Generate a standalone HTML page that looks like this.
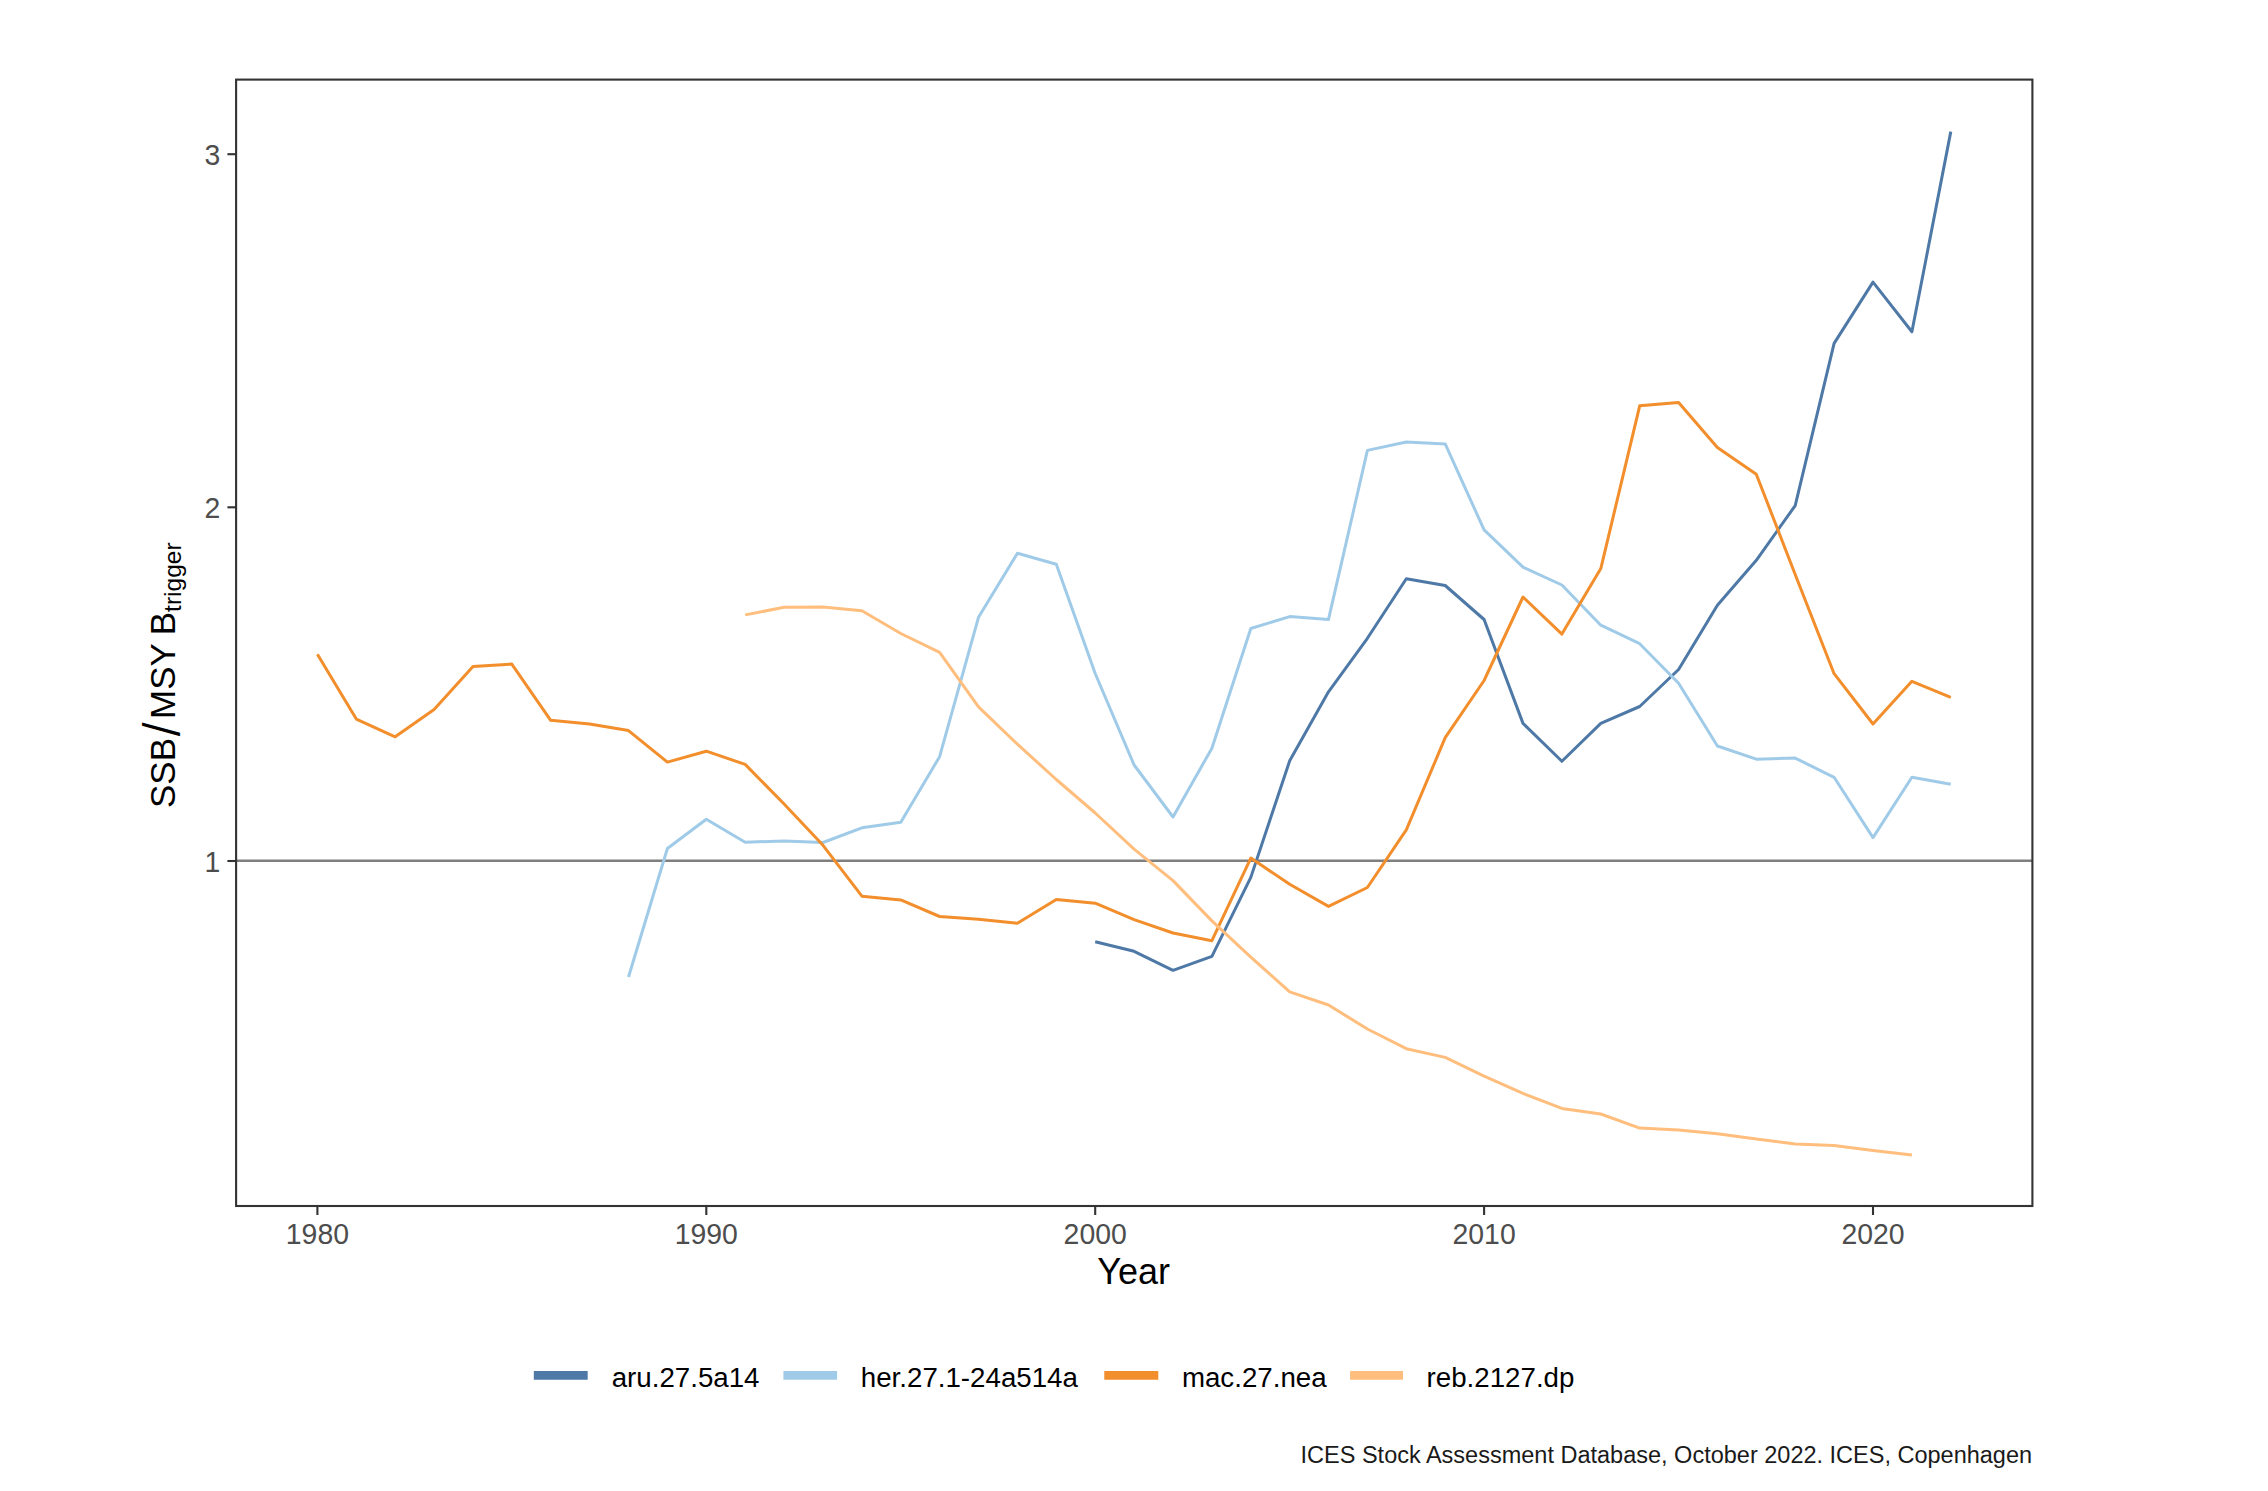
<!DOCTYPE html>
<html><head><meta charset="utf-8"><title>SSB/MSY Btrigger</title>
<style>html,body{margin:0;padding:0;background:#fff;overflow:hidden;}svg{display:block;}</style>
</head><body>
<svg width="2268" height="1491" viewBox="0 0 2268 1491" font-family='"Liberation Sans", Arial, sans-serif'>
<rect x="0" y="0" width="2268" height="1491" fill="#fff"/>
<line x1="236.1" y1="860.7" x2="2032.4" y2="860.7" stroke="#7f7f7f" stroke-width="2.6"/>
<path d="M1095.2,941.8 L1134.1,951.3 L1173.0,970.3 L1211.9,956.3 L1250.8,877.4 L1289.7,760.8 L1328.5,691.8 L1367.4,638.3 L1406.3,578.8 L1445.2,585.5 L1484.1,619.5 L1523.0,723.4 L1561.9,761.3 L1600.8,723.4 L1639.7,706.5 L1678.6,669.5 L1717.4,605.2 L1756.3,560.3 L1795.2,505.6 L1834.1,343.4 L1873.0,282.1 L1911.9,331.7 L1950.8,131.6" fill="none" stroke="#4E79A7" stroke-width="3.0" stroke-linejoin="round" stroke-linecap="butt"/>
<path d="M628.5,977.0 L667.4,848.5 L706.3,819.2 L745.2,842.3 L784.1,840.9 L823.0,842.5 L861.9,827.8 L900.8,822.2 L939.6,756.7 L978.5,617.3 L1017.4,553.3 L1056.3,564.3 L1095.2,673.5 L1134.1,765.0 L1173.0,817.0 L1211.9,748.2 L1250.8,628.5 L1289.7,616.6 L1328.5,619.4 L1367.4,450.4 L1406.3,442.0 L1445.2,443.9 L1484.1,529.9 L1523.0,567.2 L1561.9,585.0 L1600.8,625.2 L1639.7,643.7 L1678.6,683.2 L1717.4,746.0 L1756.3,759.2 L1795.2,758.1 L1834.1,777.3 L1873.0,837.6 L1911.9,777.3 L1950.8,784.3" fill="none" stroke="#A0CBE8" stroke-width="3.0" stroke-linejoin="round" stroke-linecap="butt"/>
<path d="M317.4,654.3 L356.3,719.1 L395.2,736.8 L434.1,709.4 L473.0,666.5 L511.8,664.1 L550.7,720.3 L589.6,724.1 L628.5,730.6 L667.4,762.1 L706.3,751.2 L745.2,764.4 L784.1,804.0 L823.0,845.3 L861.9,896.2 L900.8,899.9 L939.6,916.5 L978.5,919.3 L1017.4,923.3 L1056.3,899.5 L1095.2,903.2 L1134.1,919.7 L1173.0,933.0 L1211.9,940.7 L1250.8,858.1 L1289.7,884.3 L1328.5,906.4 L1367.4,887.5 L1406.3,829.9 L1445.2,737.7 L1484.1,680.5 L1523.0,597.0 L1561.9,634.1 L1600.8,568.6 L1639.7,405.8 L1678.6,402.5 L1717.4,447.6 L1756.3,474.2 L1795.2,574.5 L1834.1,673.7 L1873.0,724.0 L1911.9,681.3 L1950.8,697.4" fill="none" stroke="#F28E2B" stroke-width="3.0" stroke-linejoin="round" stroke-linecap="butt"/>
<path d="M745.2,614.9 L784.1,607.3 L823.0,607.0 L861.9,610.7 L900.8,633.5 L939.6,652.4 L978.5,706.8 L1017.4,744.2 L1056.3,779.5 L1095.2,813.0 L1134.1,849.2 L1173.0,880.6 L1211.9,920.9 L1250.8,957.1 L1289.7,991.8 L1328.5,1005.0 L1367.4,1029.0 L1406.3,1048.7 L1445.2,1057.4 L1484.1,1076.2 L1523.0,1093.4 L1561.9,1108.4 L1600.8,1114.0 L1639.7,1128.1 L1678.6,1130.0 L1717.4,1133.7 L1756.3,1138.9 L1795.2,1144.0 L1834.1,1145.6 L1873.0,1150.6 L1911.9,1155.1" fill="none" stroke="#FFBE7D" stroke-width="3.0" stroke-linejoin="round" stroke-linecap="butt"/>
<rect x="236.1" y="79.6" width="1796.3000000000002" height="1126.4" fill="none" stroke="#333" stroke-width="2.1"/>
<line x1="227.4" y1="154.2" x2="236.1" y2="154.2" stroke="#333" stroke-width="2.1"/>
<text x="0" y="0" transform="translate(220.2,164.8) scale(1,1.05)" text-anchor="end" font-size="28.4" fill="#4d4d4d">3</text>
<line x1="227.4" y1="507.3" x2="236.1" y2="507.3" stroke="#333" stroke-width="2.1"/>
<text x="0" y="0" transform="translate(220.2,517.9) scale(1,1.05)" text-anchor="end" font-size="28.4" fill="#4d4d4d">2</text>
<line x1="227.4" y1="861.0" x2="236.1" y2="861.0" stroke="#333" stroke-width="2.1"/>
<text x="0" y="0" transform="translate(220.2,871.6) scale(1,1.05)" text-anchor="end" font-size="28.4" fill="#4d4d4d">1</text>
<line x1="317.4" y1="1206.0" x2="317.4" y2="1215" stroke="#333" stroke-width="2.1"/>
<text x="0" y="0" transform="translate(317.4,1244.4) scale(1,1.05)" text-anchor="middle" font-size="28.4" fill="#4d4d4d">1980</text>
<line x1="706.3" y1="1206.0" x2="706.3" y2="1215" stroke="#333" stroke-width="2.1"/>
<text x="0" y="0" transform="translate(706.3,1244.4) scale(1,1.05)" text-anchor="middle" font-size="28.4" fill="#4d4d4d">1990</text>
<line x1="1095.2" y1="1206.0" x2="1095.2" y2="1215" stroke="#333" stroke-width="2.1"/>
<text x="0" y="0" transform="translate(1095.2,1244.4) scale(1,1.05)" text-anchor="middle" font-size="28.4" fill="#4d4d4d">2000</text>
<line x1="1484.1" y1="1206.0" x2="1484.1" y2="1215" stroke="#333" stroke-width="2.1"/>
<text x="0" y="0" transform="translate(1484.1,1244.4) scale(1,1.05)" text-anchor="middle" font-size="28.4" fill="#4d4d4d">2010</text>
<line x1="1873.0" y1="1206.0" x2="1873.0" y2="1215" stroke="#333" stroke-width="2.1"/>
<text x="0" y="0" transform="translate(1873.0,1244.4) scale(1,1.05)" text-anchor="middle" font-size="28.4" fill="#4d4d4d">2020</text>
<text x="1133.6" y="1283.6" text-anchor="middle" font-size="36" fill="#000">Year</text>
<g transform="translate(175.3,0) rotate(-90)" font-size="35" fill="#000"><text x="-808.0" y="0">SSB</text><text x="0" y="0" transform="translate(-736.3,0.8) scale(0.875,1)" font-size="46.8" font-family="DejaVu Sans">/</text><text x="-719.0" y="0">MSY</text><text x="-635.3" y="0">B</text><text x="-611.9" y="5.8" font-size="24.5">trigger</text></g>
<line x1="533.8" y1="1375.4" x2="587.7" y2="1375.4" stroke="#4E79A7" stroke-width="8.6"/>
<text x="611.7" y="1387.3" font-size="27.7" fill="#000">aru.27.5a14</text>
<line x1="783.4" y1="1375.4" x2="837.1" y2="1375.4" stroke="#A0CBE8" stroke-width="8.6"/>
<text x="860.8" y="1387.3" font-size="27.7" fill="#000">her.27.1-24a514a</text>
<line x1="1104.3" y1="1375.4" x2="1158.3" y2="1375.4" stroke="#F28E2B" stroke-width="8.6"/>
<text x="1181.9" y="1387.3" font-size="27.7" fill="#000">mac.27.nea</text>
<line x1="1350.1" y1="1375.4" x2="1403.0" y2="1375.4" stroke="#FFBE7D" stroke-width="8.6"/>
<text x="1426.6" y="1387.3" font-size="27.7" fill="#000">reb.2127.dp</text>
<text x="2032.1" y="1462.7" text-anchor="end" font-size="23.5" fill="#1a1a1a">ICES Stock Assessment Database, October 2022. ICES, Copenhagen</text>
</svg>
</body></html>
